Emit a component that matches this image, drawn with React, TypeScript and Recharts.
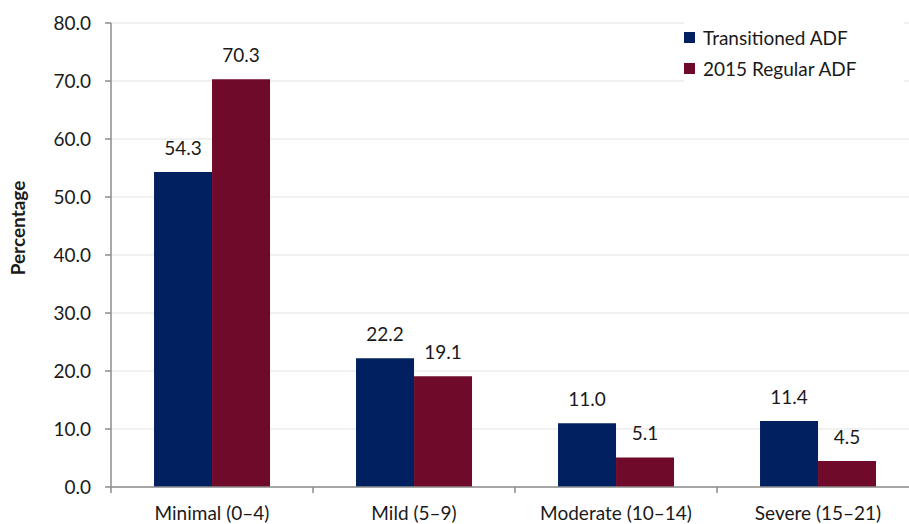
import { BarChart, Bar, XAxis, YAxis, CartesianGrid, Legend, LabelList, Label } from 'recharts';

const categories = ['Minimal (0–4)', 'Mild (5–9)', 'Moderate (10–14)', 'Severe (15–21)'];
const transitioned = [54.3, 22.2, 11.0, 11.4];
const regular2015 = [70.3, 19.1, 5.1, 4.5];
const seriesKeys = ['transitioned', 'regular'];
const yTicks = [0, 10, 20, 30, 40, 50, 60, 70, 80];

const data = categories.map((name, i) => ({
  name,
  transitioned: transitioned[i],
  regular: regular2015[i],
}));

const FONT = 'Lato, "Open Sans", sans-serif';
const TEXT = '#1a1a1a';
const AXIS = '#8c8c8c';
const FS = 19;

function CategoryTick(props: any) {
  const { x, y, payload } = props;
  const off = payload.offset || 0;
  return (
    <g>
      <line x1={x - off} x2={x - off} y1={y - 8} y2={y - 2} stroke={AXIS} strokeWidth={1.5} />
      <text x={x} y={y} dy={25} textAnchor="middle" fill={TEXT} fontSize={FS} fontFamily={FONT}>
        {payload.value}
      </text>
    </g>
  );
}

function LegendBox(props: any) {
  const items = [...(props.payload || [])].sort(
    (a: any, b: any) => seriesKeys.indexOf(a.dataKey) - seriesKeys.indexOf(b.dataKey)
  );
  return (
    <div style={{ background: '#fff', fontFamily: FONT, fontSize: FS, color: TEXT }}>
      {items.map((item: any) => (
        <div key={item.value} style={{ display: 'flex', alignItems: 'center', height: 31 }}>
          <span style={{ width: 11, height: 11, background: item.color, marginRight: 8, display: 'inline-block' }} />
          <span>{item.value}</span>
        </div>
      ))}
    </div>
  );
}

export default function App() {
  return (
    <div style={{ position: 'absolute', left: 0, top: 0, width: 909, height: 524, overflow: 'hidden', background: '#fff' }}>
      <BarChart
        width={940}
        height={524}
        data={data}
        margin={{ top: 23, right: 21, left: 0, bottom: 0 }}
        barCategoryGap="21.3%"
        barGap={0}
      >
        <CartesianGrid vertical={false} stroke="#e4e4e4" strokeWidth={1.2} />
        <XAxis
          dataKey="name"
          height={37}
          tickLine={false}
          tickSize={6}
          tickMargin={2}
          stroke={AXIS}
          strokeWidth={1.5}
          interval={0}
          tick={<CategoryTick />}
        />
        <YAxis
          width={111}
          domain={[0, 80]}
          ticks={yTicks}
          tickFormatter={(v: number) => v.toFixed(1)}
          tickSize={6}
          tickMargin={14}
          stroke={AXIS}
          strokeWidth={1.5}
          tick={{ fill: TEXT, fontSize: FS, fontFamily: FONT }}
        >
          <Label
            content={(p: any) => {
              const vb = p.viewBox;
              const cx = vb.x + 17;
              const cy = vb.y + vb.height / 2 - 27;
              return (
                <text
                  x={cx}
                  y={cy}
                  transform={`rotate(-90, ${cx}, ${cy})`}
                  textAnchor="middle"
                  dominantBaseline="central"
                  fontFamily={FONT}
                  fontWeight="bold"
                  fontSize={19}
                  fill={TEXT}
                >
                  Percentage
                </text>
              );
            }}
          />
        </YAxis>
        <Legend
          layout="vertical"
          align="center"
          verticalAlign="middle"
          content={<LegendBox />}
          wrapperStyle={{ top: 22, left: 684, width: 220 }}
        />
        <Bar dataKey="transitioned" name="Transitioned ADF" fill="#002060" isAnimationActive={false}>
          <LabelList
            dataKey="transitioned"
            position="top"
            offset={17}
            formatter={(v: any) => Number(v).toFixed(1)}
            fill={TEXT}
            fontSize={FS}
            fontFamily={FONT}
          />
        </Bar>
        <Bar dataKey="regular" name="2015 Regular ADF" fill="#700a2b" isAnimationActive={false}>
          <LabelList
            dataKey="regular"
            position="top"
            offset={17}
            formatter={(v: any) => Number(v).toFixed(1)}
            fill={TEXT}
            fontSize={FS}
            fontFamily={FONT}
          />
        </Bar>
      </BarChart>
    </div>
  );
}
